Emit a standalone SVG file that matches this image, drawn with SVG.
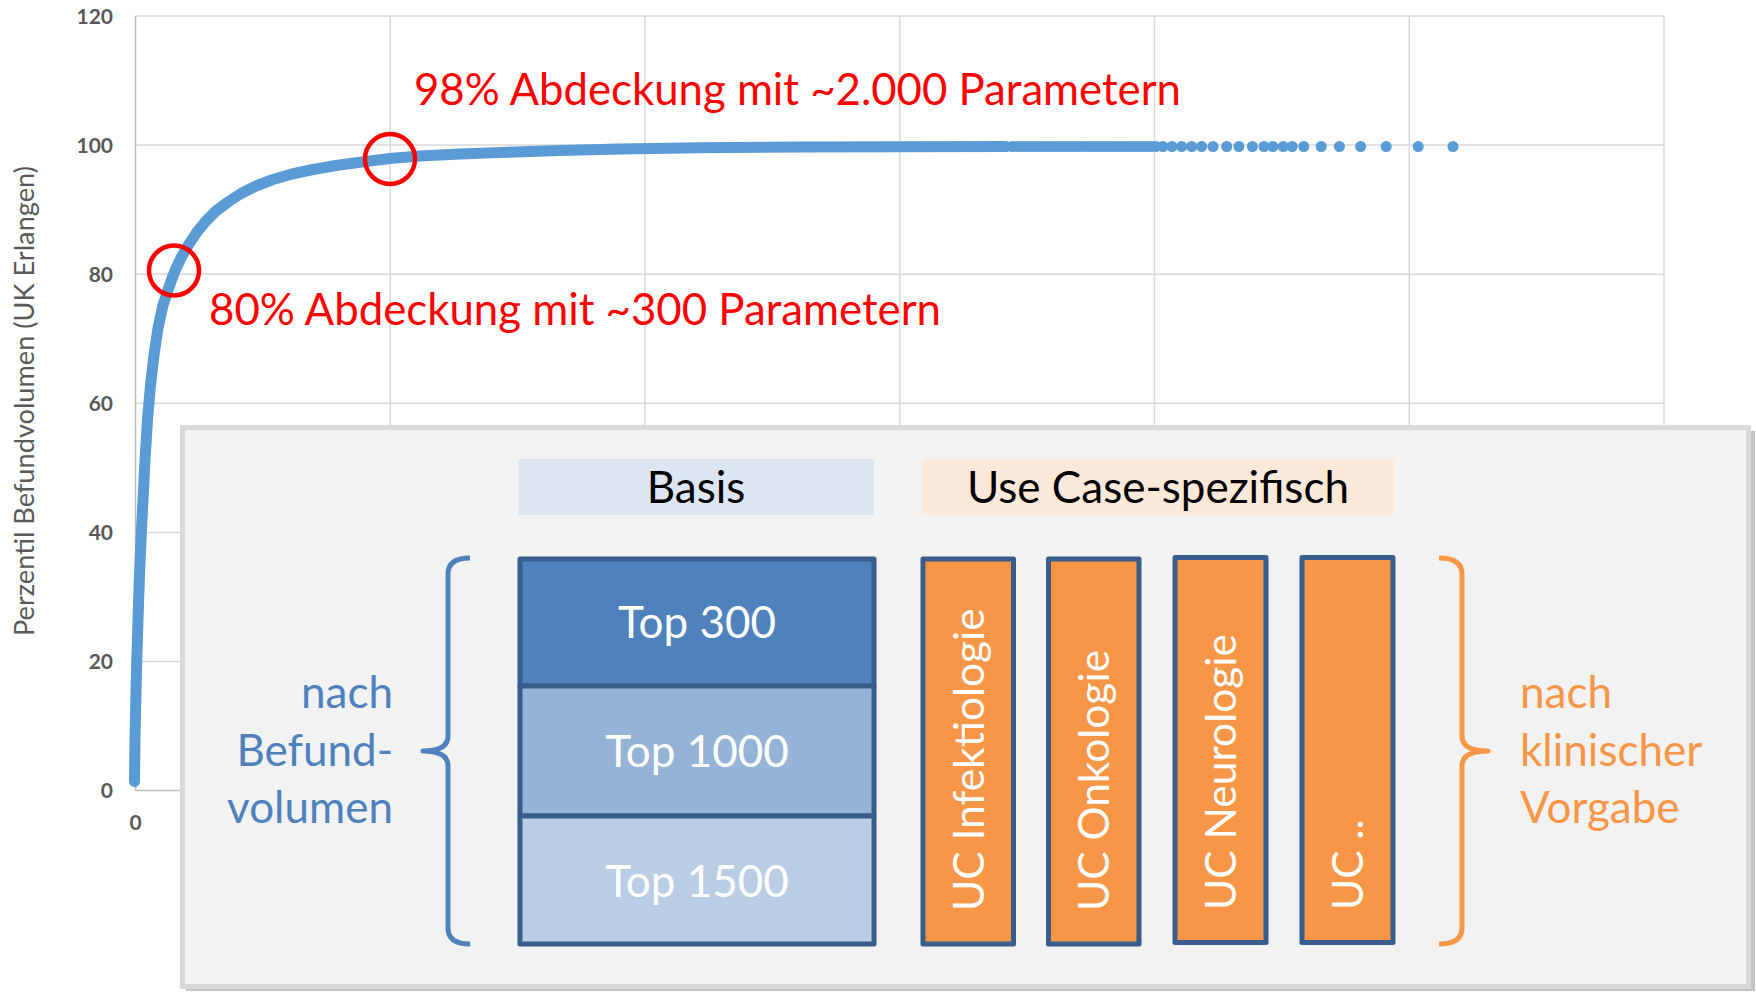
<svg xmlns="http://www.w3.org/2000/svg" width="1756" height="992" viewBox="0 0 1756 992">
<style>
  .t { font-family: Lato, "Liberation Sans", sans-serif; }
  .grid { stroke: #D9D9D9; stroke-width: 1.5; fill: none; }
  .axis { stroke: #BFBFBF; stroke-width: 1.5; fill: none; }
  .tick { font-family: Lato, "Liberation Sans", sans-serif; font-weight: bold; font-size: 21px; fill: #595959; }
  .note { font-family: Lato, "Liberation Sans", sans-serif; font-size: 44px; fill: #FF0000; }
  .ring { fill: none; stroke: #FF0000; stroke-width: 4.5; }
  .dot { fill: #5B9BD5; }
  .big { font-family: Lato, "Liberation Sans", sans-serif; font-size: 44px; }
  .vert { font-family: Lato, "Liberation Sans", sans-serif; font-size: 42.5px; fill: #FFFFFF; }
  .cell { stroke: #385D8A; stroke-width: 5; stroke-linejoin: round; }
  .uc { fill: #F79646; stroke: #385D8A; stroke-width: 5; stroke-linejoin: round; }
  .brace { fill: none; stroke-width: 5; stroke-linecap: butt; stroke-linejoin: round; }
</style>

<g id="chart">
  <g id="gridlines">
    <line class="grid" x1="135.5" y1="16" x2="1664" y2="16"/>
    <line class="grid" x1="135.5" y1="145.1" x2="1664" y2="145.1"/>
    <line class="grid" x1="135.5" y1="274.2" x2="1664" y2="274.2"/>
    <line class="grid" x1="135.5" y1="403.3" x2="1664" y2="403.3"/>
    <line class="grid" x1="135.5" y1="532.4" x2="1664" y2="532.4"/>
    <line class="grid" x1="135.5" y1="661.5" x2="1664" y2="661.5"/>
    <line class="grid" x1="390.25" y1="16" x2="390.25" y2="790.5"/>
    <line class="grid" x1="645" y1="16" x2="645" y2="790.5"/>
    <line class="grid" x1="899.75" y1="16" x2="899.75" y2="790.5"/>
    <line class="grid" x1="1154.5" y1="16" x2="1154.5" y2="790.5"/>
    <line class="grid" x1="1409.25" y1="16" x2="1409.25" y2="790.5"/>
    <line class="grid" x1="1664" y1="16" x2="1664" y2="790.5"/>
    <line class="axis" x1="135.5" y1="790.5" x2="1664" y2="790.5"/>
    <line class="axis" x1="135.5" y1="16" x2="135.5" y2="790.5"/>
  </g>
  <g id="y-ticks">
    <text class="tick" x="113" y="24" text-anchor="end">120</text>
    <text class="tick" x="113" y="153" text-anchor="end">100</text>
    <text class="tick" x="113" y="282" text-anchor="end">80</text>
    <text class="tick" x="113" y="411" text-anchor="end">60</text>
    <text class="tick" x="113" y="540" text-anchor="end">40</text>
    <text class="tick" x="113" y="669" text-anchor="end">20</text>
    <text class="tick" x="113" y="798" text-anchor="end">0</text>
    <text class="tick" x="135.5" y="830" text-anchor="middle">0</text>
  </g>
  <text class="t" x="34" y="401" font-size="27" fill="#595959" text-anchor="middle" textLength="470" lengthAdjust="spacingAndGlyphs" transform="rotate(-90 34 401)">Perzentil Befundvolumen (UK Erlangen)</text>
  <g id="series">
    <path d="M134.5,781.5 L135,740 L135.8,700 L136.8,660 L138,620 L139.3,580 L141,540 L143,500 L145,460 L147.5,420 L150.5,385 L154,355 L158,328 L163,305 L169,287 L175,270.5 L181.5,257 L189,244 L197,232 L206,221 L216,211 L228,202 L241,193.5 L256,186 L273,179.5 L292,174 L313,169.5 L336,165.5 L362,162 L390,158.5 L420,156 L460,154 L500,152.5 L560,150.5 L620,149 L700,147.8 L800,147 L900,146.7 L1006,146.5" fill="none" stroke="#5B9BD5" stroke-width="11" stroke-linecap="round" stroke-linejoin="round"/>
    <path d="M1012,146.5 L1158,146.5" fill="none" stroke="#5B9BD5" stroke-width="11" stroke-linecap="round" stroke-dasharray="0 4.5"/>
    <circle class="dot" cx="1163" cy="146.5" r="5.5"/>
    <circle class="dot" cx="1172" cy="146.5" r="5.5"/>
    <circle class="dot" cx="1181.7" cy="146.5" r="5.5"/>
    <circle class="dot" cx="1191.7" cy="146.5" r="5.5"/>
    <circle class="dot" cx="1201.7" cy="146.5" r="5.5"/>
    <circle class="dot" cx="1213" cy="146.5" r="5.5"/>
    <circle class="dot" cx="1226.7" cy="146.5" r="5.5"/>
    <circle class="dot" cx="1238.9" cy="146.5" r="5.5"/>
    <circle class="dot" cx="1252.4" cy="146.5" r="5.5"/>
    <circle class="dot" cx="1264" cy="146.5" r="5.5"/>
    <circle class="dot" cx="1272.9" cy="146.5" r="5.5"/>
    <circle class="dot" cx="1283.3" cy="146.5" r="5.5"/>
    <circle class="dot" cx="1292.2" cy="146.5" r="5.5"/>
    <circle class="dot" cx="1303.8" cy="146.5" r="5.5"/>
    <circle class="dot" cx="1321.2" cy="146.5" r="5.5"/>
    <circle class="dot" cx="1339.4" cy="146.5" r="5.5"/>
    <circle class="dot" cx="1360.6" cy="146.5" r="5.5"/>
    <circle class="dot" cx="1386.2" cy="146.5" r="5.5"/>
    <circle class="dot" cx="1418.2" cy="146.5" r="5.5"/>
    <circle class="dot" cx="1453" cy="146.5" r="5.5"/>
  </g>
  <g id="annotations">
    <circle class="ring" cx="174" cy="270.5" r="25"/>
    <circle class="ring" cx="390" cy="159" r="25"/>
    <text class="note" x="414" y="105" textLength="767" lengthAdjust="spacingAndGlyphs">98% Abdeckung mit ~2.000 Parametern</text>
    <text class="note" x="209" y="325" textLength="732" lengthAdjust="spacingAndGlyphs">80% Abdeckung mit ~300 Parametern</text>
  </g>
</g>

<g id="panel">
  <rect x="186" y="431" width="1569" height="560" fill="#C4C4C4"/>
  <rect x="182.5" y="427.5" width="1566" height="559" fill="#F2F2F2" stroke="#D9D9D9" stroke-width="5"/>
</g>

<g id="header-basis">
  <rect x="518.5" y="459" width="355.5" height="56" fill="#DCE6F2"/>
  <text class="big" x="696" y="503" text-anchor="middle" fill="#000000">Basis</text>
</g>
<g id="header-usecase">
  <rect x="922" y="459" width="472" height="56" fill="#FDE9D9"/>
  <text class="big" x="1158" y="503" text-anchor="middle" fill="#000000">Use Case-spezifisch</text>
</g>

<g id="top300">
  <rect class="cell" x="520" y="559" width="354" height="127" fill="#4F81BD"/>
  <text class="big" x="697" y="638" text-anchor="middle" fill="#FFFFFF">Top 300</text>
</g>
<g id="top1000">
  <rect class="cell" x="520" y="686" width="354" height="130" fill="#95B3D7"/>
  <text class="big" x="697" y="767" text-anchor="middle" fill="#FFFFFF">Top 1000</text>
</g>
<g id="top1500">
  <rect class="cell" x="520" y="816" width="354" height="128" fill="#B9CDE5"/>
  <text class="big" x="697" y="897" text-anchor="middle" fill="#FFFFFF">Top 1500</text>
</g>

<g id="uc-infektiologie">
  <rect class="uc" x="923" y="559" width="90.5" height="385"/>
  <text class="vert" x="983.5" y="911" transform="rotate(-90 983.5 911)">UC Infektiologie</text>
</g>
<g id="uc-onkologie">
  <rect class="uc" x="1048.5" y="559" width="90.5" height="385"/>
  <text class="vert" x="1108.5" y="911" transform="rotate(-90 1108.5 911)">UC Onkologie</text>
</g>
<g id="uc-neurologie">
  <rect class="uc" x="1175" y="557.5" width="91" height="385"/>
  <text class="vert" x="1235.5" y="910" transform="rotate(-90 1235.5 910)">UC Neurologie</text>
</g>
<g id="uc-more">
  <rect class="uc" x="1302" y="557.5" width="91" height="385"/>
  <text class="vert" x="1362.5" y="910" transform="rotate(-90 1362.5 910)">UC ..</text>
</g>

<g id="label-befundvolumen">
  <text class="big" text-anchor="end" fill="#4F81BD"><tspan x="393" y="708">nach</tspan><tspan x="393" y="765.5">Befund-</tspan><tspan x="393" y="823">volumen</tspan></text>
</g>
<g id="label-klinisch">
  <text class="big" fill="#F79646"><tspan x="1520" y="708">nach</tspan><tspan x="1520" y="765.5">klinischer</tspan><tspan x="1520" y="823">Vorgabe</tspan></text>
</g>

<g id="braces">
  <path class="brace" stroke="#4F81BD" d="M470,558 Q448,558 448,574 L448,736 Q448,751 423,751 Q448,751 448,766 L448,928 Q448,944 470,944"/>
  <path class="brace" stroke="#F79646" d="M1439,558 Q1462,558 1462,574 L1462,736 Q1462,751 1488,751 Q1462,751 1462,766 L1462,928 Q1462,944 1439,944"/>
</g>
</svg>
